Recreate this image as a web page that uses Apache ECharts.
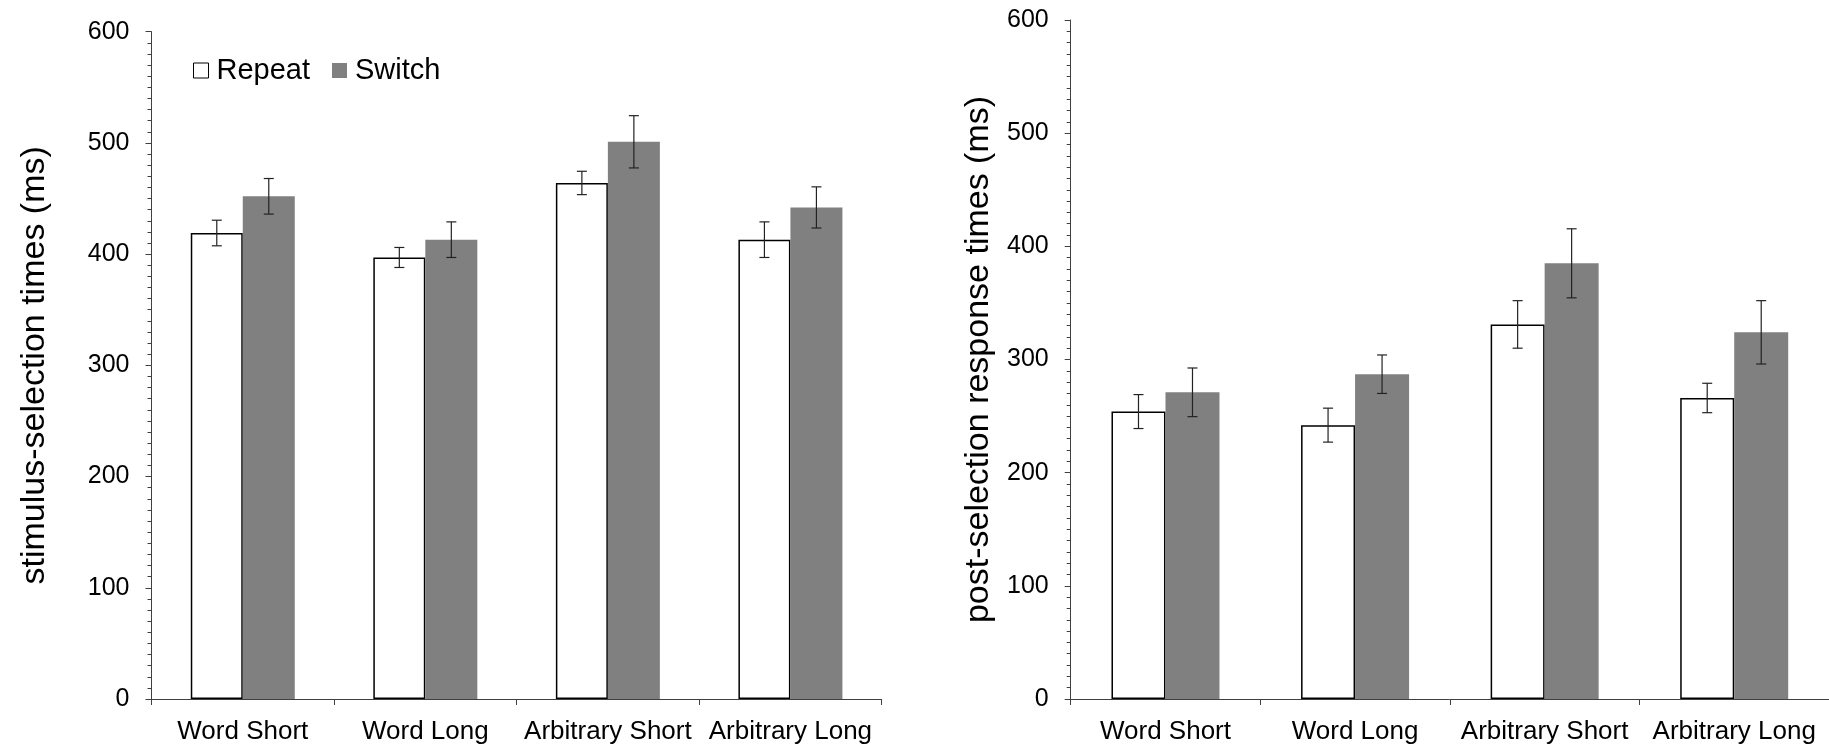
<!DOCTYPE html>
<html>
<head>
<meta charset="utf-8">
<script src="https://cdn.jsdelivr.net/npm/echarts@6/dist/echarts.min.js"></script>
<style>
html,body{margin:0;padding:0;background:#fff;}
#c{width:1829px;height:749px;}
</style>
</head>
<body>
<div id="c"></div>
<script>
const categories = ['Word Short', 'Word Long', 'Arbitrary Short', 'Arbitrary Long'];
const yTicks = [0, 100, 200, 300, 400, 500, 600];

const leftRepeat = [419, 397, 464, 413];
const leftRepeatErr = [11.5, 9, 10.5, 16];
const leftSwitch = [452, 413, 501, 442];
const leftSwitchErr = [16, 16, 23.5, 18.5];

const rightRepeat = [254, 242, 331, 266];
const rightRepeatErr = [15, 15, 21, 13];
const rightSwitch = [271, 287, 385, 324];
const rightSwitchErr = [21.5, 17, 30.5, 28];

const FONT = 'Liberation Sans, Arial, sans-serif';
const AXIS_COLOR = '#404040';
const SWITCH_COLOR = '#808080';

const chart = echarts.init(document.getElementById('c'), null, {renderer: 'canvas'});

function xAxisCfg(gi) {
  return {
    type: 'category', gridIndex: gi, data: categories,
    axisLine: {lineStyle: {color: AXIS_COLOR, width: 1}},
    axisTick: {show: true, length: 6, lineStyle: {color: AXIS_COLOR}},
    axisLabel: {color: '#000', fontFamily: FONT, fontSize: 26, margin: 20, interval: 0}
  };
}
function yAxisCfg(gi, name, gap) {
  return {
    type: 'value', gridIndex: gi, min: yTicks[0], max: yTicks[yTicks.length - 1], interval: 100,
    name: name, nameLocation: 'middle', nameRotate: 90, nameGap: gap,
    nameTextStyle: {color: '#000', fontFamily: FONT, fontSize: 34},
    axisLine: {show: true, lineStyle: {color: AXIS_COLOR, width: 1}},
    axisTick: {show: true, length: 6, lineStyle: {color: AXIS_COLOR}},
    minorTick: {show: true, splitNumber: 10, length: 4, lineStyle: {color: AXIS_COLOR}},
    splitLine: {show: false},
    axisLabel: {color: '#000', fontFamily: FONT, fontSize: 25, margin: 22}
  };
}

function errSeries(gi, vals, errs, offsetSign, barW) {
  return {
    type: 'custom', xAxisIndex: gi, yAxisIndex: gi, z: 10, silent: true,
    data: vals.map((v, i) => [i, v, errs[i]]),
    renderItem: function (params, api) {
      const i = api.value(0), v = api.value(1), e = api.value(2);
      const c = api.coord([i, v]);
      const x = c[0] + offsetSign * barW / 2;
      const top = api.coord([i, v + e])[1];
      const bot = api.coord([i, v - e])[1];
      const cap = 5;
      const st = {stroke: '#222', lineWidth: 1.2};
      return {
        type: 'group',
        children: [
          {type: 'line', shape: {x1: x, y1: top, x2: x, y2: bot}, style: st},
          {type: 'line', shape: {x1: x - cap, y1: top, x2: x + cap, y2: top}, style: st},
          {type: 'line', shape: {x1: x - cap, y1: bot, x2: x + cap, y2: bot}, style: st}
        ]
      };
    }
  };
}

function barSeries(gi, name, vals, barW, isRepeat) {
  return {
    name: name, type: 'bar', xAxisIndex: gi, yAxisIndex: gi, data: vals,
    barWidth: barW, barGap: '0%',
    itemStyle: isRepeat ? {color: '#ffffff', borderColor: '#000', borderWidth: 1.5}
                        : {color: SWITCH_COLOR, borderWidth: 0},
    emphasis: {disabled: true}
  };
}

const LBW = 52, RBW = 54;

chart.setOption({
  animation: false,
  backgroundColor: '#fff',
  grid: [
    {left: 151.5, top: 31.7, width: 730.2, height: 667.3},
    {left: 1070.7, top: 20, width: 761.2, height: 679}
  ],
  legend: {
    left: 188, top: 51, itemWidth: 15, itemHeight: 15, itemGap: 22,
    textStyle: {color: '#000', fontFamily: FONT, fontSize: 29, padding: [0, 0, 0, 3]},
    data: [
      {name: 'Repeat', icon: 'rect', itemStyle: {color: '#fff', borderColor: '#000', borderWidth: 1}},
      {name: 'Switch', icon: 'rect', itemStyle: {color: SWITCH_COLOR, borderWidth: 0}}
    ]
  },
  xAxis: [xAxisCfg(0), xAxisCfg(1)],
  yAxis: [yAxisCfg(0, 'stimulus-selection times (ms)', 100), yAxisCfg(1, 'post-selection response times (ms)', 75)],
  series: [
    barSeries(0, 'Repeat', leftRepeat, LBW, true),
    barSeries(0, 'Switch', leftSwitch, LBW, false),
    barSeries(1, 'Repeat', rightRepeat, RBW, true),
    barSeries(1, 'Switch', rightSwitch, RBW, false),
    errSeries(0, leftRepeat, leftRepeatErr, -1, LBW),
    errSeries(0, leftSwitch, leftSwitchErr, 1, LBW),
    errSeries(1, rightRepeat, rightRepeatErr, -1, RBW),
    errSeries(1, rightSwitch, rightSwitchErr, 1, RBW)
  ]
});
</script>
</body>
</html>
